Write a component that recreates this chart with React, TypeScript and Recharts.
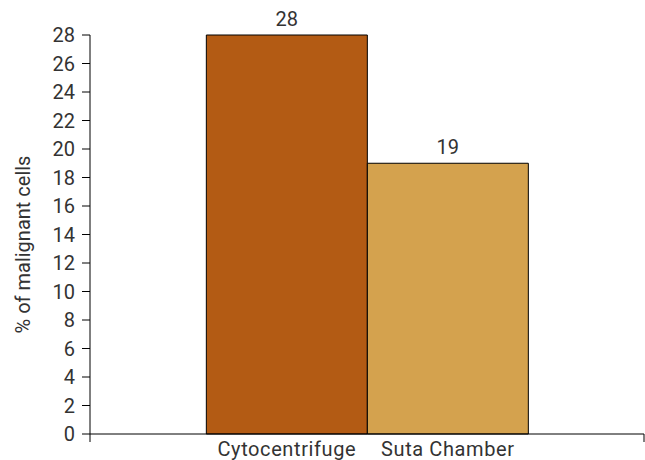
import { BarChart, Bar, XAxis, YAxis, LabelList } from 'recharts';

const METHODS = ['Cytocentrifuge', 'Suta Chamber'];
const MALIGNANT_PCT = [28, 19];
const Y_TICKS = [0, 2, 4, 6, 8, 10, 12, 14, 16, 18, 20, 22, 24, 26, 28];

const COLORS = ['#b35b14', '#d4a24e'];
const FONT = 'Roboto, "Noto Sans", sans-serif';
const TEXT = '#333333';
const FS = 20;

// one category, each method is its own series so the bars sit side by side
const data = [
  METHODS.reduce<Record<string, number | string>>(
    (acc, m, i) => {
      acc[m] = MALIGNANT_PCT[i];
      return acc;
    },
    { group: 'all' }
  ),
];

// x axis has a single band; tick marks go at both of its edges
const EdgeTicks = (props: any) => {
  const { x, y, width } = props;
  const left = x - width / 2;
  const right = x + width / 2;
  return (
    <g>
      <line x1={left} y1={y - 8} x2={left} y2={y} stroke="#000" />
      <line x1={right} y1={y - 8} x2={right} y2={y} stroke="#000" />
    </g>
  );
};

const nameBelow = (name: string) => (p: any) => (
  <text
    x={p.x + p.width / 2}
    y={p.y + p.height + 22}
    textAnchor="middle"
    fill={TEXT}
    fontSize={FS}
    fontFamily={FONT}
    letterSpacing={0.6}
  >
    {name}
  </text>
);

const YTitle = (props: any) => {
  const vb = props.viewBox;
  const cx = vb.x + 23;
  const cy = vb.y + vb.height / 2 + 10;
  return (
    <text
      transform={`translate(${cx}, ${cy}) rotate(-90)`}
      textAnchor="middle"
      dominantBaseline="central"
      fill={TEXT}
      fontSize={FS}
      fontFamily={FONT}
    >
      % of malignant cells
    </text>
  );
};

export default function App() {
  return (
    <div style={{ position: 'fixed', left: 0, top: 0, background: '#fff' }}>
      <BarChart
        width={645}
        height={460}
        data={data}
        margin={{ top: 35, right: 1, bottom: 0, left: 0 }}
        barGap={0}
        barCategoryGap="21%"
      >
        <XAxis
          dataKey="group"
          height={26}
          axisLine={{ stroke: '#000' }}
          tickLine={false}
          tick={<EdgeTicks />}
        />
        <YAxis
          width={90}
          domain={[0, 28]}
          ticks={Y_TICKS}
          interval={0}
          tickSize={8}
          tickMargin={7}
          axisLine={{ stroke: '#000' }}
          tickLine={{ stroke: '#000' }}
          tick={{ fill: TEXT, fontSize: FS, fontFamily: FONT }}
          label={<YTitle />}
        />
        {METHODS.map((m, i) => (
          <Bar
            key={m}
            dataKey={m}
            fill={COLORS[i]}
            stroke="#000"
            strokeWidth={1}
            isAnimationActive={false}
          >
            <LabelList
              dataKey={m}
              position="top"
              offset={9}
              fill={TEXT}
              fontSize={FS}
              fontFamily={FONT}
            />
            <LabelList dataKey={m} content={nameBelow(m)} />
          </Bar>
        ))}
      </BarChart>
    </div>
  );
}
